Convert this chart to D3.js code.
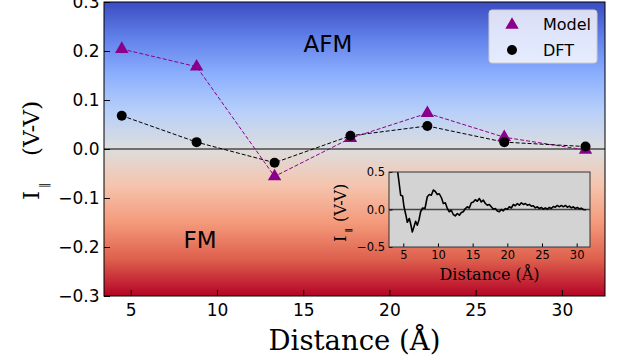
<!DOCTYPE html>
<html>
<head>
<meta charset="utf-8">
<script src="https://cdn.jsdelivr.net/npm/d3@7"></script>
<style>
  body { margin: 0; background: #fff; }
  svg text { fill: #000; }
</style>
</head>
<body>
<svg id="chart" width="628" height="362"></svg>
<script>
// main panel data
const distance = [4.48, 8.82, 13.34, 17.74, 22.2, 26.66, 31.37];
const model = [0.204, 0.168, -0.056, 0.022, 0.073, 0.024, -0.002];
const dft = [0.068, 0.014, -0.028, 0.027, 0.047, 0.014, 0.005];
const yTicks = [-0.3, -0.2, -0.1, 0.0, 0.1, 0.2, 0.3];
const xTicks = [5, 10, 15, 20, 25, 30];

// inset curve
const insetX = [4.05, 4.38, 4.62, 4.9, 5.1, 5.38, 5.58, 5.87, 6.06, 6.3, 6.54, 6.78, 7.02, 7.26, 7.5, 7.79,
  8.13, 8.46, 8.75, 9.04, 9.33, 9.62, 9.9, 10.19, 10.53, 10.77, 11.06, 11.35, 11.63, 11.92, 12.21, 12.5,
  12.79, 13.08, 13.37, 13.65, 13.94, 14.23, 14.52, 14.81, 15.1, 15.38, 15.67, 15.96, 16.25, 16.54, 16.83,
  17.12, 17.4, 17.69, 17.98, 18.27, 18.56, 18.85, 19.13, 19.42, 19.71, 20.0, 20.29, 20.58, 20.87, 21.15,
  21.44, 21.73, 22.02, 22.31, 22.6, 22.88, 23.17, 23.46, 23.75, 24.04, 24.33, 24.62, 24.9, 25.19, 25.48,
  25.77, 26.06, 26.35, 26.63, 26.92, 27.21, 27.5, 27.79, 28.08, 28.37, 28.65, 28.94, 29.23, 29.52, 29.81,
  30.1, 30.38, 30.67, 30.96, 31.35];
const insetY = [0.6, 0.37, 0.19, 0.18, 0.036, -0.076, -0.17, -0.12, -0.19, -0.3, -0.23, -0.156, -0.21, -0.14, -0.03, 0.02,
  0.013, 0.17, 0.2, 0.19, 0.26, 0.24, 0.2, 0.21, 0.15, 0.08, 0.09, 0.013, -0.03, -0.01, -0.067, -0.085,
  -0.054, -0.076, -0.04, -0.03, 0.013, 0.036, 0.02, 0.09, 0.1, 0.13, 0.11, 0.147, 0.1, 0.125, 0.08,
  0.058, 0.067, 0.036, 0.004, 0.013, -0.02, -0.03, 0, -0.018, 0.013, 0.004, 0.036, 0.02, 0.067, 0.05,
  0.08, 0.058, 0.09, 0.067, 0.08, 0.058, 0.067, 0.045, 0.05, 0.022, 0.036, 0.013, 0.027, 0.004, 0.022,
  0.004, 0.027, 0.013, 0.04, 0.031, 0.054, 0.036, 0.054, 0.036, 0.054, 0.031, 0.045, 0.022, 0.036, 0.013,
  0.027, 0.009, 0.018, 0, -0.004];
const insetYTicks = [-0.5, 0.0, 0.5];
const insetXTicks = [5, 10, 15, 20, 25, 30];

// coolwarm colormap stops, top (blue) to bottom (red)
const coolwarm = ["#3b4cc0", "#6282ea", "#8db0fe", "#b8d0f9", "#dddddd", "#f5c4ad", "#f49a7b", "#de604d", "#b40426"];

const svg = d3.select("#chart");
const sans = "DejaVu Sans, sans-serif";
const serif = "DejaVu Serif, serif";

const m = { left: 104, right: 605, top: 2, bottom: 296 };
const x = d3.scaleLinear().domain([3.45, 32.5]).range([m.left, m.right]);
const y = d3.scaleLinear().domain([-0.3, 0.3]).range([m.bottom, m.top]);

const defs = svg.append("defs");
const grad = defs.append("linearGradient")
    .attr("id", "bg").attr("x1", 0).attr("y1", 0).attr("x2", 0).attr("y2", 1);
grad.selectAll("stop").data(coolwarm).enter().append("stop")
    .attr("offset", (d, i) => i / (coolwarm.length - 1))
    .attr("stop-color", d => d);

svg.append("rect")
    .attr("x", m.left).attr("y", m.top)
    .attr("width", m.right - m.left).attr("height", m.bottom - m.top)
    .attr("fill", "url(#bg)");

// zero line
svg.append("line")
    .attr("x1", m.left).attr("x2", m.right)
    .attr("y1", y(0)).attr("y2", y(0))
    .attr("stroke", "#000").attr("stroke-width", 1);

// axes with inward ticks
const yAxis = svg.append("g").attr("transform", `translate(${m.left},0)`)
    .call(d3.axisLeft(y).tickValues(yTicks).tickFormat(d3.format(".1f")).tickSize(-6).tickPadding(4.5));
const xAxis = svg.append("g").attr("transform", `translate(0,${m.bottom})`)
    .call(d3.axisBottom(x).tickValues(xTicks).tickSize(-6).tickPadding(8));
[yAxis, xAxis].forEach(g => {
  g.select(".domain").remove();
  g.selectAll("text").attr("font-family", sans).attr("font-size", 17);
  g.selectAll("line").attr("stroke", "#000");
});

svg.append("rect")
    .attr("x", m.left).attr("y", m.top)
    .attr("width", m.right - m.left).attr("height", m.bottom - m.top)
    .attr("fill", "none").attr("stroke", "#000").attr("stroke-width", 1);

// region labels
svg.append("text").attr("x", 328).attr("y", 52).attr("text-anchor", "middle")
    .attr("font-family", sans).attr("font-size", 23).text("AFM");
svg.append("text").attr("x", 200).attr("y", 248).attr("text-anchor", "middle")
    .attr("font-family", sans).attr("font-size", 23).text("FM");

// series
const line = d3.line().x(d => x(d[0])).y(d => y(d[1]));
const modelPts = distance.map((d, i) => [d, model[i]]);
const dftPts = distance.map((d, i) => [d, dft[i]]);

svg.append("path").datum(modelPts).attr("d", line)
    .attr("fill", "none").attr("stroke", "#8b008b").attr("stroke-width", 1)
    .attr("stroke-dasharray", "4,2");
svg.append("path").datum(dftPts).attr("d", line)
    .attr("fill", "none").attr("stroke", "#000").attr("stroke-width", 1)
    .attr("stroke-dasharray", "4,2");

const tri = d3.symbol().type(d3.symbolTriangle).size(78);
svg.selectAll(".model").data(modelPts).enter().append("path")
    .attr("class", "model")
    .attr("transform", d => `translate(${x(d[0])},${y(d[1])})`)
    .attr("d", tri).attr("fill", "#8b008b");
svg.selectAll(".dft").data(dftPts).enter().append("circle")
    .attr("class", "dft")
    .attr("cx", d => x(d[0])).attr("cy", d => y(d[1])).attr("r", 5)
    .attr("fill", "#000");

// legend
const leg = svg.append("g");
leg.append("rect").attr("x", 489).attr("y", 10).attr("width", 108).attr("height", 53)
    .attr("rx", 3).attr("fill", "rgba(255,255,255,0.8)").attr("stroke", "#ccc");
leg.append("path").attr("transform", "translate(512,25)").attr("d", tri).attr("fill", "#8b008b");
leg.append("circle").attr("cx", 512).attr("cy", 50).attr("r", 5).attr("fill", "#000");
leg.append("text").attr("x", 543).attr("y", 30).attr("font-family", sans).attr("font-size", 16).text("Model");
leg.append("text").attr("x", 543).attr("y", 56).attr("font-family", sans).attr("font-size", 16).text("DFT");

// axis titles
svg.append("text").attr("x", (m.left + m.right) / 2).attr("y", 350).attr("text-anchor", "middle")
    .attr("font-family", serif).attr("font-size", 27.5).text("Distance (Å)");

// I_parallel (V-V), drawn rotated; pieces placed along the rotated baseline
function yLabel(cx, cy, size, subSize, iStart, subStart, subDy, restStart, subWeight) {
  const g = svg.append("g").attr("transform", `translate(${cx},${cy}) rotate(-90)`)
      .attr("font-family", serif);
  g.append("text").attr("x", iStart).attr("font-size", size).text("I");
  g.append("text").attr("x", subStart).attr("y", subDy).attr("font-size", subSize)
      .attr("font-weight", subWeight).text("\u2016");
  g.append("text").attr("x", restStart).attr("font-size", size).text("(V-V)");
}
yLabel(39, 149, 23, 11, -51, -39, 8, -7, "normal");

// inset
const im = { left: 389, right: 590, top: 172, bottom: 247 };
const ix = d3.scaleLinear().domain([2.94, 31.92]).range([im.left, im.right]);
const iy = d3.scaleLinear().domain([-0.5, 0.5]).range([im.bottom, im.top]);

defs.append("clipPath").attr("id", "insetClip").append("rect")
    .attr("x", im.left).attr("y", im.top)
    .attr("width", im.right - im.left).attr("height", im.bottom - im.top);

svg.append("rect")
    .attr("x", im.left).attr("y", im.top)
    .attr("width", im.right - im.left).attr("height", im.bottom - im.top)
    .attr("fill", "#d3d3d3");
svg.append("line")
    .attr("x1", im.left).attr("x2", im.right)
    .attr("y1", iy(0)).attr("y2", iy(0))
    .attr("stroke", "#444").attr("stroke-width", 1.5);

const insetPts = insetX.map((d, i) => [d, insetY[i]]);
svg.append("path").datum(insetPts)
    .attr("clip-path", "url(#insetClip)")
    .attr("d", d3.line().x(d => ix(d[0])).y(d => iy(d[1])))
    .attr("fill", "none").attr("stroke", "#000").attr("stroke-width", 1.6)
    .attr("stroke-linejoin", "round");

const iyAxis = svg.append("g").attr("transform", `translate(${im.left},0)`)
    .call(d3.axisLeft(iy).tickValues(insetYTicks).tickFormat(d3.format(".1f")).tickSize(-3.5).tickPadding(4));
const ixAxis = svg.append("g").attr("transform", `translate(0,${im.bottom})`)
    .call(d3.axisBottom(ix).tickValues(insetXTicks).tickSize(-3.5).tickPadding(4));
[iyAxis, ixAxis].forEach(g => {
  g.select(".domain").remove();
  g.selectAll("text").attr("font-family", sans).attr("font-size", 11.5);
  g.selectAll("line").attr("stroke", "#000");
});

svg.append("rect")
    .attr("x", im.left).attr("y", im.top)
    .attr("width", im.right - im.left).attr("height", im.bottom - im.top)
    .attr("fill", "none").attr("stroke", "#333").attr("stroke-width", 1);

svg.append("text").attr("x", (im.left + im.right) / 2).attr("y", 280).attr("text-anchor", "middle")
    .attr("font-family", serif).attr("font-size", 16).text("Distance (Å)");
yLabel(346, 209.5, 16, 8, -32.5, -23, 5, -12.5, "bold");
</script>
</body>
</html>
